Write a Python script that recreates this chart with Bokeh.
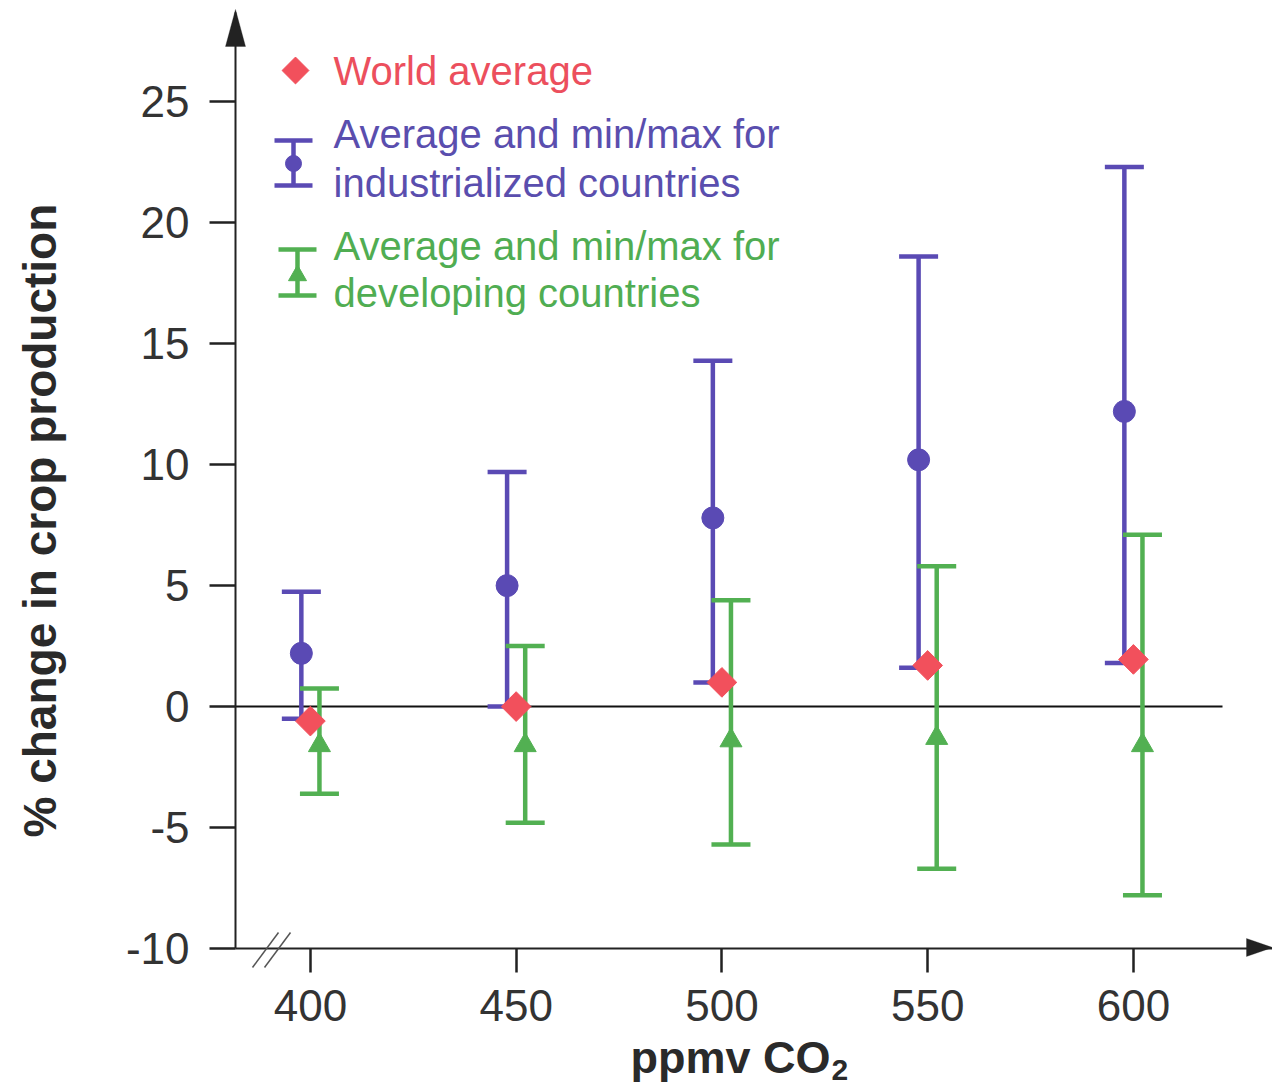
import math
from bokeh.plotting import figure
from bokeh.models import Label, Arrow, PolyAnnotation, FixedTicker, Range1d
from bokeh.embed import file_html
from bokeh.resources import INLINE

# ---------------- data ----------------
co2 = [400, 450, 500, 550, 600]
world_avg = [-0.6, 0.0, 1.0, 1.7, 1.95]
ind_avg = [2.2, 5.0, 7.8, 10.2, 12.2]
ind_min = [-0.5, 0.0, 1.0, 1.6, 1.8]
ind_max = [4.75, 9.7, 14.3, 18.6, 22.3]
dev_avg = [-1.6, -1.6, -1.4, -1.3, -1.6]
dev_min = [-3.6, -4.8, -5.7, -6.7, -7.8]
dev_max = [0.75, 2.5, 4.4, 5.8, 7.1]

y_ticks = [-10, -5, 0, 5, 10, 15, 20, 25]
y_tick_labels = ["-10", "-5", "0", "5", "10", "15", "20", "25"]
x_ticks = [400, 450, 500, 550, 600]
x_tick_labels = ["400", "450", "500", "550", "600"]

legend_world = "World average"
legend_ind = ["Average and min/max for", "industrialized countries"]
legend_dev = ["Average and min/max for", "developing countries"]
x_title = "ppmv CO"
x_title_sub = "2"
y_title = "% change in crop production"

# ---------------- style ----------------
RED = "#f2505c"
RED_TXT = "#ec4f5d"
BLUE = "#5a4ab4"
BLUE_TXT = "#5a4eae"
GREEN = "#52b052"
GREEN_TXT = "#50ad52"
AX = "#222222"
TXT = "#333333"
FONT = "Liberation Sans"

W, H = 1272, 1084
# pixel positions of the axes in the canvas
AXL, AXR, AXT, AXB = 235, 1272, 12, 948
X_AT_AXL, X_AT_AXR = 381.8, 633.8
Y_AT_AXB, Y_AT_AXT = -10.0, 28.69
XS = (AXR - AXL) / (X_AT_AXR - X_AT_AXL)   # px per unit
YS = (AXB - AXT) / (Y_AT_AXT - Y_AT_AXB)
XA = X_AT_AXL - AXL / XS
XB = X_AT_AXR + (W - AXR) / XS
YA = Y_AT_AXB - (H - AXB) / YS
YB = Y_AT_AXT + AXT / YS
OFF = 2.2      # horizontal offset of the two country groups
BASE_FIX = 15  # label baseline correction (px)


def px2x(px):
    return XA + px * (XB - XA) / W


def px2y(py):
    return YB - py * (YB - YA) / H


p = figure(width=W, height=H, x_range=Range1d(XA, XB), y_range=Range1d(YA, YB),
           output_backend="svg", toolbar_location=None,
           min_border_left=0, min_border_right=0, min_border_top=0, min_border_bottom=0)
p.grid.visible = False
p.outline_line_color = None
p.background_fill_color = "white"
p.border_fill_color = "white"

for ax, ticks, labels, tout in ((p.yaxis, y_ticks, y_tick_labels, 26),
                                (p.xaxis, x_ticks, x_tick_labels, 24)):
    ax.ticker = FixedTicker(ticks=ticks)
    ax.major_label_overrides = {t: l for t, l in zip(ticks, labels)}
    ax.major_tick_out = tout
    ax.major_tick_in = 0
    ax.minor_tick_out = 0
    ax.minor_tick_in = 0
    ax.major_tick_line_width = 2.5
    ax.major_tick_line_color = AX
    ax.axis_line_width = 2
    ax.axis_line_color = AX
    ax.major_label_text_font = FONT
    ax.major_label_text_font_size = "44px"
    ax.major_label_text_color = TXT
p.yaxis.major_label_standoff = 20
p.xaxis.major_label_standoff = 17
p.yaxis.fixed_location = X_AT_AXL
p.yaxis.bounds = (Y_AT_AXB, Y_AT_AXT)
p.xaxis.fixed_location = Y_AT_AXB
p.xaxis.bounds = (X_AT_AXL, X_AT_AXR)

# zero line
p.segment(x0=[X_AT_AXL], y0=[0], x1=[px2x(1222)], y1=[0], line_color="#111111", line_width=2)

# industrialized
ind_x = [c - OFF for c in co2]
p.segment(x0=ind_x, y0=ind_min, x1=ind_x, y1=ind_max, line_color=BLUE, line_width=4.5)
p.scatter(ind_x, ind_max, marker="dash", size=39, line_color=BLUE, line_width=4.5)
p.scatter(ind_x, ind_min, marker="dash", size=39, line_color=BLUE, line_width=4.5)
p.scatter(ind_x, ind_avg, marker="circle", size=22, fill_color=BLUE, line_color=BLUE)

# developing
dev_x = [c + OFF for c in co2]
p.segment(x0=dev_x, y0=dev_min, x1=dev_x, y1=dev_max, line_color=GREEN, line_width=4.5)
p.scatter(dev_x, dev_max, marker="dash", size=39, line_color=GREEN, line_width=4.5)
p.scatter(dev_x, dev_min, marker="dash", size=39, line_color=GREEN, line_width=4.5)
p.scatter(dev_x, dev_avg, marker="triangle", size=22, fill_color=GREEN, line_color=GREEN)

# world average
p.scatter(co2, world_avg, marker="square", angle=math.pi / 4, size=21,
          fill_color=RED, line_color=RED)

# ---------------- legend ----------------
p.scatter([px2x(295)], [px2y(70)], marker="square", angle=math.pi / 4, size=19,
          fill_color=RED, line_color=RED)
bx = px2x(293)
p.segment(x0=[bx], y0=[px2y(140)], x1=[bx], y1=[px2y(185)], line_color=BLUE, line_width=4.5)
p.scatter([bx, bx], [px2y(140), px2y(185)], marker="dash", size=38, line_color=BLUE, line_width=4.5)
p.scatter([bx], [px2y(163)], marker="circle", size=16, fill_color=BLUE, line_color=BLUE)
gx = px2x(297)
p.segment(x0=[gx], y0=[px2y(249)], x1=[gx], y1=[px2y(295)], line_color=GREEN, line_width=4.5)
p.scatter([gx, gx], [px2y(249), px2y(295)], marker="dash", size=38, line_color=GREEN, line_width=4.5)
p.scatter([gx], [px2y(275)], marker="triangle", size=18, fill_color=GREEN, line_color=GREEN)


def add_text(txt, px, py, color, size="40px", style="normal", angle=0.0):
    p.add_layout(Label(x=px2x(px), y=px2y(py), text=txt, text_font=FONT,
                       text_font_size=size, text_color=color, text_font_style=style,
                       text_align="left", text_baseline="alphabetic", angle=angle))


add_text(legend_world, 333, 85 - BASE_FIX, RED_TXT)
add_text(legend_ind[0], 333, 148 - BASE_FIX, BLUE_TXT)
add_text(legend_ind[1], 333, 197 - BASE_FIX, BLUE_TXT)
add_text(legend_dev[0], 333, 260 - BASE_FIX, GREEN_TXT)
add_text(legend_dev[1], 333, 307 - BASE_FIX, GREEN_TXT)

# axis titles
add_text(y_title, 54 - BASE_FIX, 837, "#2a2a2a", size="46px", style="bold", angle=math.pi / 2)
add_text(x_title, 630, 1072 - BASE_FIX, "#2a2a2a", size="45px", style="bold")
add_text(x_title_sub, 831, 1084 - BASE_FIX, "#2a2a2a", size="30px", style="bold")

# axis arrow heads
p.add_layout(PolyAnnotation(xs=[px2x(235), px2x(225), px2x(245)],
                            ys=[px2y(9), px2y(46), px2y(46)],
                            fill_color=AX, fill_alpha=1.0, line_color=AX, line_width=1))
p.add_layout(PolyAnnotation(xs=[px2x(1272), px2x(1246), px2x(1246)],
                            ys=[px2y(947), px2y(938), px2y(956)],
                            fill_color=AX, fill_alpha=1.0, line_color=AX, line_width=1))

# axis break marks
p.add_layout(Arrow(end=None, x_start=px2x(252), y_start=px2y(967), x_end=px2x(278), y_end=px2y(932),
                   line_color="#555555", line_width=1.5))
p.add_layout(Arrow(end=None, x_start=px2x(264), y_start=px2y(967), x_end=px2x(290), y_end=px2y(932),
                   line_color="#555555", line_width=1.5))

open("out.html", "w").write(file_html(p, INLINE))
